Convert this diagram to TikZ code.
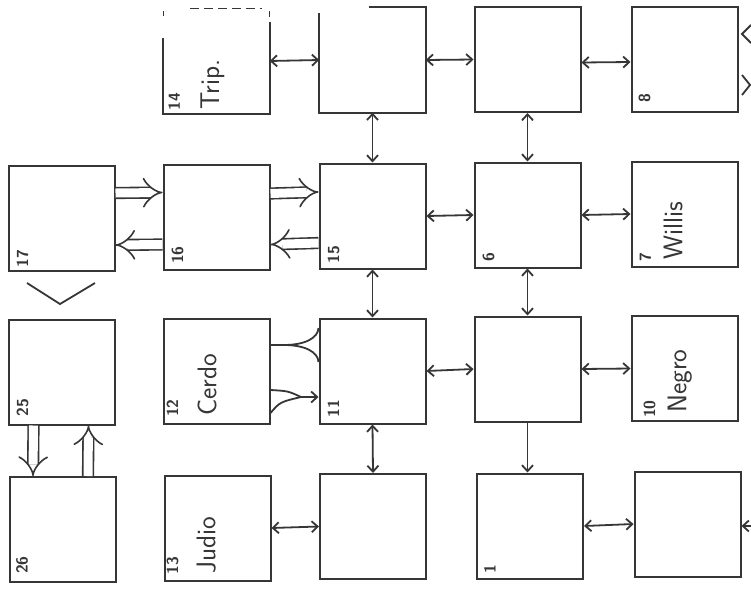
\documentclass[tikz,border=0pt]{standalone}
\usepackage{fontspec}
\usetikzlibrary{arrows.meta}
\definecolor{ink}{HTML}{363636}
\tikzset{
  box/.style={draw=ink, line width=2pt, minimum width=106pt, minimum height=105pt, inner sep=0pt},
  ghost/.style={minimum width=106pt, minimum height=105pt, inner sep=0pt},
  edge/.style={draw=ink, line width=2pt},
  link/.style={draw=ink, line width=1.8pt},
  biarr/.style={link, {Straight Barb[length=6pt,width=11pt]}-{Straight Barb[length=6pt,width=11pt]}},
  arr/.style={link, -{Straight Barb[length=6pt,width=11pt]}},
  dbl/.style={draw=ink, line width=1.6pt, double=white, double distance=9pt, -{Implies}},
  numlbl/.style={rotate=90, anchor=north west, inner sep=0pt, font=\sffamily\bfseries\fontsize{16}{16}\selectfont, text=ink},
  namelbl/.style={rotate=90, anchor=north west, inner sep=0pt, font=\sffamily\fontsize{27}{27}\selectfont, text=ink},
}
\begin{document}
\begin{tikzpicture}[x=1pt, y=-1pt]
\useasboundingbox[fill=white] (0,0) rectangle (751,589);

% boxes
\node[box] (n17) at (61.5,218) {};
\node[box] (n16) at (216.5,217.5) {};
\node[box] (n15) at (372.5,216) {};
\node[box] (n6) at (527.5,215) {};
\node[box] (n7) at (684.5,214) {};
\node[ghost] (n14) at (216.5,61) {};
\node[ghost] (nC1) at (372.5,60) {};
\node[box] (nD1) at (527.5,59.5) {};
\node[box] (n8) at (684.5,59) {};
\node[box] (n25) at (61.5,372) {};
\node[box] (n12) at (216.5,371.5) {};
\node[box] (n11) at (372.5,371) {};
\node[box] (nD3) at (527.5,369) {};
\node[box] (n10) at (684.5,368.5) {};
\node[box] (n26) at (63,529.5) {};
\node[box] (n13) at (217.5,528) {};
\node[box] (nC4) at (373,526.5) {};
\node[box] (n1) at (530,526) {};
\node[box] (nE4) at (687.5,524) {};

% partially faded outlines
\draw[edge] ([yshift=-30pt]n14.north west) -- (n14.south west) -- (n14.south east) -- ([yshift=-14pt]n14.north east);
\draw[edge, line width=1pt, dash pattern=on 9pt off 5pt] ([xshift=27pt]n14.north west) -- ([xshift=-8pt]n14.north east);
\draw[edge, line width=1.2pt] ([yshift=-3pt]n14.north west) -- ([yshift=-8pt]n14.north west);
\draw[edge, line width=1.2pt] ([yshift=-3pt]n14.north east) -- ([yshift=-9pt]n14.north east);
\draw[edge] ([xshift=-57pt]nC1.north east) -- (nC1.north east) -- (nC1.south east) -- (nC1.south west) -- ([yshift=-6pt]nC1.north west);

% labels
\node[numlbl] (l14) at ([xshift=5pt,yshift=3pt]n14.south west) {14};
\node[namelbl] (t14) at ([xshift=37pt,yshift=4pt]n14.south west) {Trip.};
\node[numlbl] (l16) at ([xshift=9pt,yshift=7pt]n16.south west) {16};
\node[numlbl] (l15) at ([xshift=9pt,yshift=6pt]n15.south west) {15};
\node[numlbl] (l17) at ([xshift=9pt,yshift=4pt]n17.south west) {17};
\node[numlbl] (l6) at ([xshift=9pt,yshift=7pt]n6.south west) {6};
\node[numlbl] (l7) at ([xshift=9pt,yshift=6pt]n7.south west) {7};
\node[namelbl] (t7) at ([xshift=33pt,yshift=8pt]n7.south west) {Willis};
\node[numlbl] (l8) at ([xshift=8pt,yshift=10pt]n8.south west) {8};
\node[numlbl] (l25) at ([xshift=9pt,yshift=9pt]n25.south west) {25};
\node[numlbl] (l12) at ([xshift=4pt,yshift=8pt]n12.south west) {12};
\node[namelbl] (t12) at ([xshift=35pt,yshift=9pt]n12.south west) {Cerdo};
\node[numlbl] (l11) at ([xshift=9pt,yshift=7pt]n11.south west) {11};
\node[numlbl] (l10) at ([xshift=13pt,yshift=4pt]n10.south west) {10};
\node[namelbl] (t10) at ([xshift=37pt,yshift=9pt]n10.south west) {Negro};
\node[numlbl] (l26) at ([xshift=7pt,yshift=9pt]n26.south west) {26};
\node[numlbl] (l13) at ([xshift=3pt,yshift=7pt]n13.south west) {13};
\node[namelbl] (t13) at ([xshift=33pt,yshift=8pt]n13.south west) {Judio};
\node[numlbl] (l1) at ([xshift=8pt,yshift=6pt]n1.south west) {1};

% connectors
\draw[biarr] (n14.east) -- (nC1.west);
\draw[biarr] (nC1.east) -- (nD1.west);
\draw[biarr] ([yshift=-3pt]nD1.east) -- ([yshift=-3pt]n8.west);
\draw[biarr] (nC1.south) -- (n15.north);
\draw[biarr] (nD1.south) -- (n6.north);
\draw[dbl] ([yshift=25pt]n17.east) -- ([yshift=25pt]n16.west);
\draw[dbl] ([yshift=-27pt]n16.west) -- ([yshift=-27pt]n17.east);
\draw[dbl] ([yshift=24pt]n16.east) -- ([yshift=24pt]n15.west);
\draw[dbl] ([yshift=-27pt]n15.west) -- ([yshift=-27pt]n16.east);
\draw[biarr] (n15.east) -- (n6.west);
\draw[biarr] (n6.east) -- (n7.west);
\draw[biarr] (n15.south) -- (n11.north);
\draw[biarr] (n6.south) -- (nD3.north);
\draw[biarr] (n11.east) -- (nD3.west);
\draw[biarr] (nD3.east) -- (n10.west);
\draw[biarr] (n11.south) -- (nC4.north);
\draw[arr] (nD3.south) -- (nD3.south |- n1.north);
\draw[biarr] (n13.east) -- (nC4.west);
\draw[biarr] (n1.east) -- (nE4.west);
\draw[dbl] ([xshift=-28pt]n25.south) -- ([xshift=-30pt]n26.north);
\draw[dbl] ([xshift=25pt]n26.north) -- ([xshift=27pt]n25.south);

% forks between 12 and 11
\coordinate (fA) at (284,345);
\coordinate (fB) at (301,397);
\draw[link] ([yshift=26.5pt]n12.east) -- (fA);
\draw[link] (fA) .. controls (305,345) and (318,338) .. ([yshift=43pt]n11.west);
\draw[link] (fA) .. controls (305,345) and (318,352) .. ([yshift=9pt]n11.west);
\draw[arr] (fB) -- ([yshift=-26pt]n11.west);
\draw[link] ([yshift=-18.5pt]n12.east) .. controls (288,391) .. (fB);
\draw[link] ([yshift=-41.5pt]n12.east) .. controls (280,402) .. (fB);

% free marks
\coordinate (vA) at (27,283);
\coordinate (vB) at (60,304);
\coordinate (vC) at (95,283);
\draw[link] (vA) -- (vB) -- (vC);
\coordinate (cA1) at (751,25);
\coordinate (cA2) at (742,34);
\coordinate (cA3) at (751,43);
\draw[link] (cA1) -- (cA2) -- (cA3);
\coordinate (cB1) at (742,75);
\coordinate (cB2) at (750,85);
\coordinate (cB3) at (742,95);
\draw[link] (cB1) -- (cB2) -- (cB3);
\coordinate (eR) at (752,526);
\draw[arr] (eR) -- ([yshift=-2pt]nE4.east);
\end{tikzpicture}
\end{document}
